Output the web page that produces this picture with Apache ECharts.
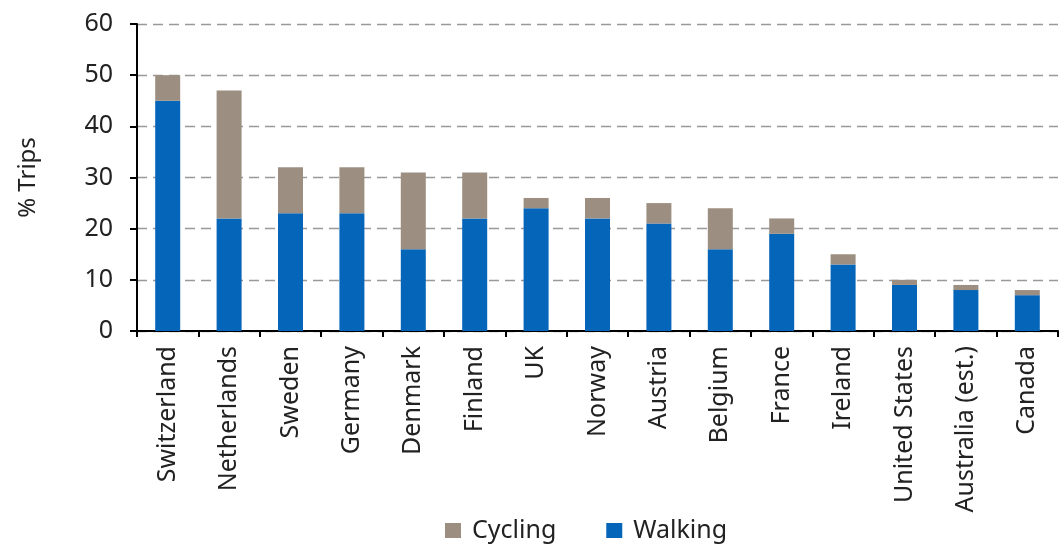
<!DOCTYPE html>
<html>
<head>
<meta charset="utf-8">
<script src="https://cdn.jsdelivr.net/npm/echarts@6/dist/echarts.min.js"></script>
<style>
  html, body { margin: 0; padding: 0; background: #fff; }
  #main { width: 1059px; height: 545px; }
</style>
</head>
<body>
<div id="main"></div>
<script>
// 国家（类别）
var countries = ['Switzerland', 'Netherlands', 'Sweden', 'Germany', 'Denmark', 'Finland', 'UK',
  'Norway', 'Austria', 'Belgium', 'France', 'Ireland', 'United States', 'Australia (est.)', 'Canada'];
// 步行 %
var walking = [45, 22, 23, 23, 16, 22, 24, 22, 21, 16, 19, 13, 9, 8, 7];
// 骑车 %（叠加在步行上）
var cycling = [5, 25, 9, 9, 15, 9, 2, 4, 4, 8, 3, 2, 1, 1, 1];
var yTicks = { min: 0, max: 60, step: 10 };

var fontName = 'Noto Sans';
var myChart = echarts.init(document.getElementById('main'));

var option = {
  animation: false,
  textStyle: { fontFamily: fontName },
  grid: { left: 137, right: 1, top: 24, bottom: 214 },
  legend: {
    data: ['Cycling', 'Walking'],
    bottom: -3,
    left: 440,
    itemWidth: 16,
    itemHeight: 15,
    itemGap: 50,
    icon: 'rect',
    textStyle: { fontSize: 25, color: '#222', fontFamily: fontName, padding: [0, 0, 0, 6] }
  },
  xAxis: {
    type: 'category',
    data: countries,
    axisLine: { lineStyle: { color: '#000', width: 2 } },
    axisTick: { show: true, length: 6, lineStyle: { color: '#000', width: 2 } },
    axisLabel: { rotate: 90, fontSize: 25, color: '#222', margin: 15, interval: 0 }
  },
  yAxis: {
    type: 'value',
    min: yTicks.min,
    max: yTicks.max,
    interval: yTicks.step,
    name: '% Trips',
    nameLocation: 'middle',
    nameGap: 97,
    nameTextStyle: { fontSize: 24, color: '#222' },
    axisLine: { show: true, lineStyle: { color: '#000', width: 2 } },
    axisTick: { show: true, length: 7, lineStyle: { color: '#000', width: 2 } },
    axisLabel: { fontSize: 25, color: '#222', margin: 24 },
    splitLine: { show: true, lineStyle: { color: '#999', type: [10, 6], width: 1.3 } }
  },
  series: [
    {
      name: 'Walking',
      type: 'bar',
      stack: 'trips',
      barWidth: 25,
      itemStyle: { color: '#0565b9' },
      data: walking
    },
    {
      name: 'Cycling',
      type: 'bar',
      stack: 'trips',
      barWidth: 25,
      itemStyle: { color: '#9c8f81' },
      data: cycling
    }
  ]
};

myChart.setOption(option);
</script>
</body>
</html>
